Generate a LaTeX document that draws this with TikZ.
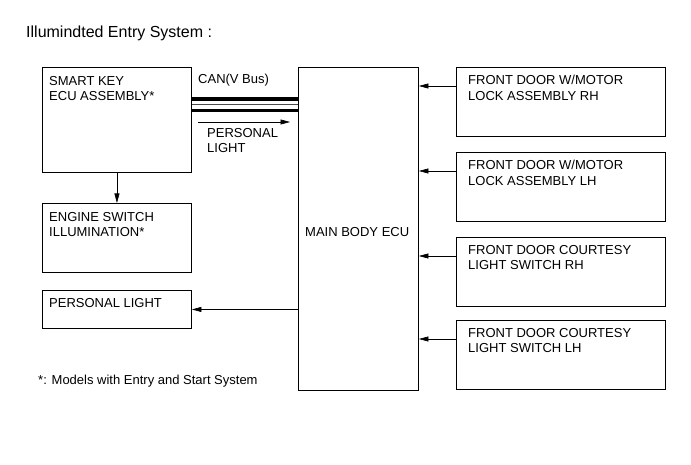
\documentclass[tikz,border=0pt]{standalone}
\usepackage{fontspec}
\setmainfont{Liberation Sans}
\usetikzlibrary{arrows.meta,
                positioning
                }
\tikzset{
    box/.style={draw, line width=0.9pt, anchor=north west, inner sep=0pt},
    txt/.style={anchor=north west, inner sep=0pt, align=left,
                font=\fontsize{13pt}{15.5pt}\selectfont},
    arr/.style={line width=0.6pt, -{Triangle[length=9.5pt, width=5pt]}},
    bus/.style={line width=3.6pt}
}

\begin{document}
\begin{tikzpicture}[x=1pt, y=-1pt]
            \useasboundingbox (0,0) rectangle (691,465);

            %title
            \node[anchor=north west, inner sep=0pt, font=\fontsize{16pt}{19pt}\selectfont]
                (title) at (26,26) {Illumindted Entry System :};

            %left boxes
            \node[box, minimum width=149pt, minimum height=105pt] (smartkey) at (42,67) {};
            \node[txt] (smartkey-t) at ([xshift=7pt, yshift=-9pt]smartkey.north west) {SMART KEY\\ECU ASSEMBLY*};
            \node[box, minimum width=149pt, minimum height=69pt] (engine) at (42,203) {};
            \node[txt] (engine-t) at ([xshift=7pt, yshift=-9pt]engine.north west) {ENGINE SWITCH\\ILLUMINATION*};
            \node[box, minimum width=149pt, minimum height=38pt] (perslight) at (42,290) {};
            \node[txt] (perslight-t) at ([xshift=7pt, yshift=-8pt]perslight.north west) {PERSONAL LIGHT};

            %main body ecu
            \node[box, minimum width=120pt, minimum height=323pt] (main) at (298,67) {};
            \node[txt] (main-t) at (305,227) {MAIN BODY ECU};

            %right boxes and their signals
            \foreach \n/\y/\txt in {1/67/{FRONT DOOR W/MOTOR\\LOCK ASSEMBLY RH},
                                    2/152/{FRONT DOOR W/MOTOR\\LOCK ASSEMBLY LH},
                                    3/237/{FRONT DOOR COURTESY\\LIGHT SWITCH RH},
                                    4/320/{FRONT DOOR COURTESY\\LIGHT SWITCH LH}}
            {
                \node[box, minimum width=209pt, minimum height=69pt] (door\n) at (456,\y) {};
                \node[txt] (door\n-t) at ([xshift=12pt, yshift=-8pt]door\n.north west) {\txt};
                \coordinate (door\n-in) at ([yshift=-19pt]door\n.north west);
                \draw[arr] (door\n-in) -- (main.east |- door\n-in);
            }

            %can bus
            \coordinate (can1) at (192,99);
            \coordinate (can2) at (192,104.8);
            \coordinate (can3) at (192,110.5);
            \draw[bus] (can1) -- (main.west |- can1);
            \draw[line width=1pt, black!70] (can2) -- (main.west |- can2);
            \draw[bus] (can3) -- (main.west |- can3);
            \node[txt] (can-t) at (198,74) {CAN(V Bus)};

            %personal light signal
            \coordinate (pl-a) at (198,122);
            \coordinate (pl-b) at (290,122);
            \draw[arr] (pl-a) -- (pl-b);
            \node[txt] (pl-t) at (207,128) {PERSONAL\\LIGHT};

            %other connections
            \draw[arr] (smartkey.south) -- (engine.north);
            \draw[arr] (main.west |- perslight.east) -- (perslight.east);

            %footnote
            \node[txt] (note) at (38,375) {*: Models with Entry and Start System};
\end{tikzpicture}
\end{document}
